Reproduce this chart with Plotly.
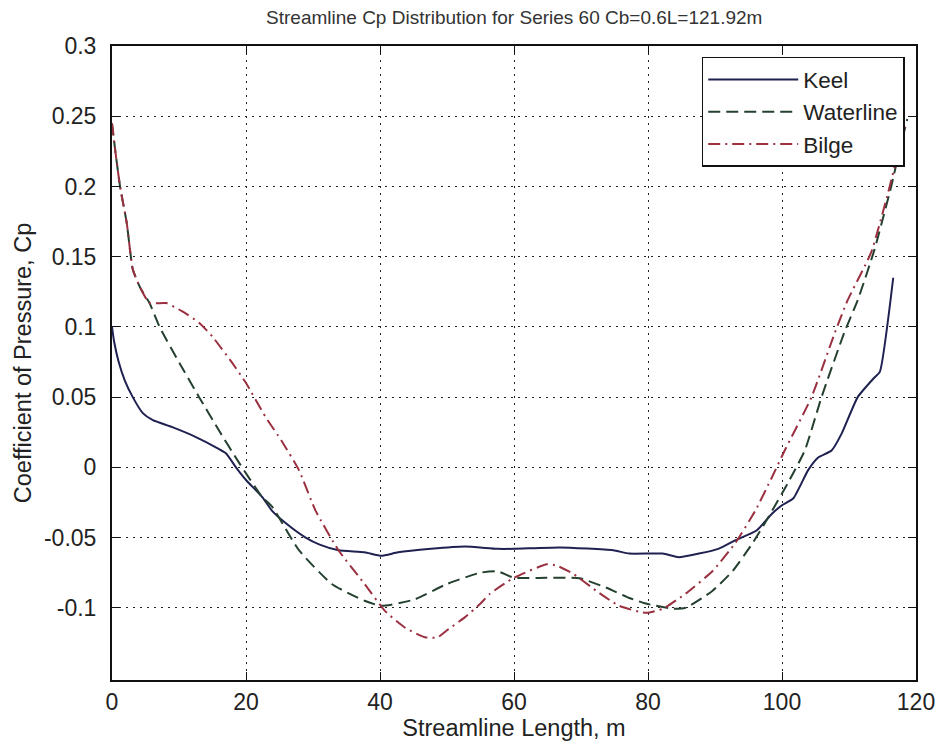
import plotly.graph_objects as go

# ---- data ----
keel_x = [0, 0.3, 1, 1.9, 3.1, 4.6, 6.1, 9, 12.6, 15.5, 17, 18.5, 20, 22.4, 23.9, 26, 28.9,
          31, 33.8, 37.7, 40.2, 42.7, 47.6, 52.6, 57.5, 60, 66.8, 74.8, 77.2, 82.2, 84.6,
          87.6, 90.5, 93, 96.2, 98.5, 100, 101.7, 103.9, 105.4, 107.4, 108.9, 111.3, 113.8,
          114.6, 116.6]
keel_y = [0.1, 0.09, 0.075, 0.062, 0.05, 0.0386, 0.0336, 0.0286, 0.0214, 0.0143, 0.01, 0.0,
          -0.009, -0.021, -0.031, -0.04, -0.05, -0.055, -0.059, -0.0605, -0.063, -0.0605,
          -0.058, -0.0564, -0.058, -0.058, -0.057, -0.059, -0.0614, -0.0614, -0.064, -0.0614,
          -0.058, -0.052, -0.045, -0.033, -0.027, -0.022, -0.002, 0.007, 0.012, 0.024, 0.05,
          0.064, 0.068, 0.135]

water_x = [0, 0.5, 1.2, 2.2, 3.1, 4.2, 5.6, 7.1, 10.1, 13, 16, 19, 22.4, 23.9, 27.9, 32.8,
           37.7, 40.2, 45.2, 50, 55, 57.5, 60, 64.9, 69.8, 73.8, 77.2, 79.7, 83.7, 85.6, 89.6,
           92.6, 95.6, 97.9, 100.9, 103.4, 105.9, 109.3, 111.3, 113.8, 116.3, 117.5, 118.7]
water_y = [0.245, 0.225, 0.2, 0.174, 0.141, 0.128, 0.117, 0.1, 0.074, 0.05, 0.026, 0.003,
           -0.021, -0.028, -0.059, -0.083, -0.095, -0.0986, -0.094, -0.083, -0.075, -0.074,
           -0.0786, -0.0786, -0.079, -0.0857, -0.093, -0.097, -0.1007, -0.1, -0.088, -0.074,
           -0.054, -0.036, -0.011, 0.012, 0.05, 0.096, 0.119, 0.155, 0.2, 0.225, 0.248]

bilge_x = [0, 0.5, 1.2, 2.2, 3.1, 4.2, 5.6, 8.1, 10.5, 13, 15, 18, 20, 22.9, 25.3, 27.9, 30.4,
           33.8, 37.7, 40.7, 43.7, 46.7, 48.6, 50, 52.6, 55, 56.4, 60, 64.9, 66.4, 68.9, 72.3,
           75.7, 79.7, 82.2, 85.6, 89.6, 93, 96, 98.5, 100.4, 104.4, 107.9, 109.8, 113.3,
           115.7, 116.7, 118.5]
bilge_y = [0.245, 0.225, 0.2, 0.174, 0.141, 0.128, 0.117, 0.117, 0.111, 0.103, 0.093, 0.074,
           0.06, 0.036, 0.019, -0.002, -0.031, -0.059, -0.083, -0.102, -0.114, -0.121, -0.121,
           -0.116, -0.107, -0.097, -0.09, -0.0786, -0.069, -0.07, -0.076, -0.088, -0.0986,
           -0.1036, -0.1007, -0.09, -0.074, -0.054, -0.031, -0.007, 0.012, 0.05, 0.096, 0.119,
           0.153, 0.193, 0.212, 0.245]

x_ticks = [0, 20, 40, 60, 80, 100, 120]
y_ticks = [0.3, 0.25, 0.2, 0.15, 0.1, 0.05, 0, -0.05, -0.1]
y_tick_text = ["0.3", "0.25", "0.2", "0.15", "0.1", "0.05", "0", "-0.05", "-0.1"]

# ---- figure ----
fig = go.Figure()
fig.add_trace(go.Scatter(x=keel_x, y=keel_y, mode="lines", name="Keel",
                         line=dict(color="#1f2150", width=2, shape="spline", smoothing=0.5)))
fig.add_trace(go.Scatter(x=water_x, y=water_y, mode="lines", name="Waterline",
                         line=dict(color="#24402f", width=2, dash="12px,6px",
                                   shape="spline", smoothing=0.5)))
fig.add_trace(go.Scatter(x=bilge_x, y=bilge_y, mode="lines", name="Bilge",
                         line=dict(color="#9a3040", width=2, dash="12px,5px,2px,5px",
                                   shape="spline", smoothing=0.5)))

FAM = "Liberation Sans, Arial, sans-serif"
axis_font = dict(family=FAM, size=23, color="#222")

fig.update_layout(
    width=947, height=750,
    margin=dict(l=112, r=27, t=46, b=70),
    paper_bgcolor="white", plot_bgcolor="white",
    font=dict(family=FAM, color="#222"),
    title=dict(text="Streamline Cp Distribution for Series 60 Cb=0.6L=121.92m",
               x=0.543, xanchor="center", y=0.977, yanchor="middle",
               font=dict(size=19, color="#333")),
    showlegend=True,
    legend=dict(x=0.986, xanchor="right", y=0.983, yanchor="top",
                bgcolor="white", bordercolor="#111", borderwidth=1.5,
                font=dict(size=22.5, color="#222"), itemwidth=90),
    xaxis=dict(range=[0, 120], tickvals=x_ticks, ticks="inside", ticklen=8,
               tickcolor="#111", showline=True, linecolor="#111", linewidth=2,
               mirror="ticks", showgrid=True, gridcolor="#222", gridwidth=1,
               griddash="2px,5px", zeroline=False, tickfont=axis_font,
               title=dict(text="Streamline Length, m", font=dict(size=23.5, color="#222"),
                          standoff=6)),
    yaxis=dict(range=[-0.1514, 0.3], tickvals=y_ticks, ticktext=y_tick_text,
               ticks="inside", ticklen=8, tickcolor="#111", showline=True,
               linecolor="#111", linewidth=2, mirror="ticks", showgrid=True,
               gridcolor="#222", gridwidth=1, griddash="2px,5px", zeroline=False,
               tickfont=axis_font, ticklabelstandoff=9,
               title=dict(text="Coefficient of Pressure, Cp",
                          font=dict(size=23.5, color="#222"), standoff=6)),
)

fig.write_html("out.html")
